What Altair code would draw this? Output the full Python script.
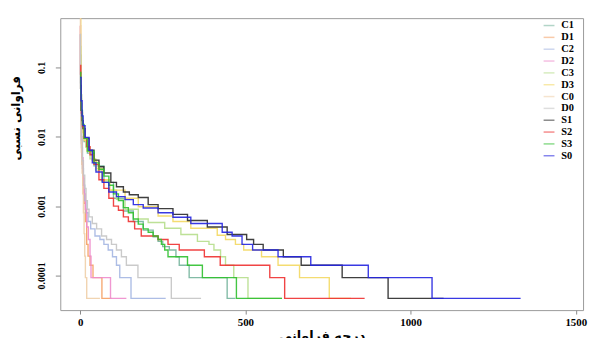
import altair as alt
import pandas as pd

series = ["C1", "D1", "C2", "D2", "C3", "D3", "C0", "D0", "S1", "S2", "S3", "S0"]
colors = ["#74b49c", "#f5a064", "#a4b6e2", "#ee8ccc", "#b6de8c", "#f3d862",
          "#efcfa8", "#c4c4c4", "#2a2a2a", "#ee3030", "#2fc02f", "#2424e0"]

c1_deg = [0, 2, 4, 7, 12, 22, 42, 72, 101, 131, 161, 191, 221, 236, 250, 270, 290, 300, 330, 445, 470]
c1_val = [0.15, 0.035, 0.02, 0.013, 0.0085, 0.0058, 0.0038, 0.0022, 0.0013, 0.00085, 0.0006, 0.00045,
          0.00036, 0.00031, 0.00026, 0.000233, 0.000186, 0.00014, 0.000093, 0.0000466, 0.0000466]

d1_deg = [0, 1, 2, 4, 6, 9, 12, 16, 20, 24, 30, 39, 66, 95]
d1_val = [0.4, 0.08, 0.02, 0.008, 0.004, 0.002, 0.0011, 0.0006, 0.00028, 0.00019, 0.00014, 0.000093,
          0.0000466, 0.0000466]

c2_deg = [0, 1, 2, 4, 7, 10, 14, 18, 24, 32, 45, 60, 72, 85, 98, 110, 120, 154, 259]
c2_val = [0.3, 0.05, 0.015, 0.007, 0.0035, 0.002, 0.0012, 0.0008, 0.0006, 0.00047, 0.00037, 0.00033,
          0.00028, 0.000233, 0.000186, 0.00014, 0.000093, 0.0000466, 0.0000466]

d2_deg = [0, 1, 2, 4, 6, 9, 12, 16, 20, 25, 30, 33, 92, 140]
d2_val = [0.4, 0.08, 0.025, 0.01, 0.005, 0.0025, 0.0015, 0.0009, 0.0005, 0.00033, 0.00019, 0.000093,
          0.0000466, 0.0000466]

c3_deg = [0, 2, 5, 10, 17, 30, 47, 65, 87, 110, 136, 176, 206, 256, 305, 355, 390, 405, 425, 440, 465, 508, 611]
c3_val = [0.2, 0.03, 0.015, 0.0095, 0.0071, 0.0048, 0.0033, 0.0023, 0.0017, 0.00125, 0.0009, 0.00065,
          0.00058, 0.00048, 0.00039, 0.00031, 0.00028, 0.000233, 0.000186, 0.00014, 0.000093,
          0.0000466, 0.0000466]

d3_deg = [0, 2, 4, 8, 12, 21, 36, 50, 67, 90, 136, 176, 236, 281, 335, 415, 440, 470, 495, 549, 599, 664, 754, 820]
d3_val = [0.6, 0.03, 0.018, 0.0115, 0.0088, 0.0062, 0.0046, 0.0035, 0.0024, 0.0017, 0.0013, 0.00098,
          0.00072, 0.0006, 0.00048, 0.00038, 0.00033, 0.00028, 0.000233, 0.000186, 0.00014, 0.000093,
          0.0000466, 0.0000466]

c0_deg = [0, 1, 2, 4, 6, 8, 10, 12, 14, 16, 20, 60]
c0_val = [0.6, 0.05, 0.015, 0.006, 0.003, 0.0015, 0.0008, 0.0004, 0.00019, 0.000093, 0.0000466, 0.0000466]

d0_deg = [0, 1, 2, 4, 7, 10, 14, 18, 22, 27, 37, 50, 65, 80, 95, 110, 125, 140, 175, 276, 366]
d0_val = [0.3, 0.06, 0.02, 0.009, 0.0045, 0.0028, 0.0018, 0.0012, 0.0009, 0.0007, 0.00056, 0.00047,
          0.00037, 0.00033, 0.00028, 0.000233, 0.000186, 0.00014, 0.000093, 0.0000466, 0.0000466]

s1_deg = [0, 3, 6, 9, 15, 27, 42, 57, 72, 93, 110, 131, 149, 176, 206, 236, 281, 325, 385, 445, 504,
          525, 554, 615, 669, 793, 932, 1100]
s1_val = [0.055, 0.024, 0.0171, 0.0131, 0.0095, 0.0064, 0.0046, 0.0037, 0.003, 0.0022, 0.0019, 0.0016,
          0.00146, 0.00133, 0.00105, 0.00092, 0.00076, 0.00062, 0.0005, 0.00039, 0.00033, 0.00028,
          0.000233, 0.000186, 0.00014, 0.000093, 0.0000466, 0.0000466]

s2_deg = [0, 2, 4, 7, 12, 20, 30, 42, 57, 72, 87, 101, 116, 131, 146, 165, 185, 236, 266, 300, 376,
          424, 574, 619, 861]
s2_val = [0.107, 0.04, 0.022, 0.014, 0.0095, 0.0072, 0.0055, 0.004, 0.0024, 0.0018, 0.0013, 0.001,
          0.00087, 0.0007, 0.0006, 0.00047, 0.00037, 0.00033, 0.00028, 0.000233, 0.000186, 0.00014,
          0.000093, 0.0000466, 0.0000466]

s3_deg = [0, 2, 4, 7, 12, 22, 42, 57, 72, 87, 101, 116, 131, 146, 161, 176, 191, 206, 221, 236, 246,
          256, 266, 325, 370, 473, 611]
s3_val = [0.085, 0.04, 0.024, 0.015, 0.0095, 0.0062, 0.0042, 0.0034, 0.0027, 0.002, 0.0015, 0.0012,
          0.00095, 0.0008, 0.00065, 0.00055, 0.00047, 0.00042, 0.00037, 0.00033, 0.00028, 0.000233,
          0.000186, 0.00014, 0.000093, 0.0000466, 0.0000466]

s0_deg = [0, 3, 6, 9, 15, 27, 37, 48, 67, 87, 110, 136, 161, 191, 236, 281, 335, 430, 460, 490, 522,
          599, 698, 872, 1065, 1333]
s0_val = [0.072, 0.033, 0.02, 0.0145, 0.0098, 0.0064, 0.0042, 0.0031, 0.0022, 0.0016, 0.00137, 0.00124,
          0.00105, 0.00094, 0.0008, 0.00069, 0.00056, 0.00042, 0.00037, 0.00028, 0.000233, 0.000186,
          0.00014, 0.000093, 0.0000466, 0.0000466]

x_ticks = [0, 500, 1000, 1500]
y_ticks = [0.0001, 0.001, 0.01, 0.1]

all_series = {
    "C1": (c1_deg, c1_val), "D1": (d1_deg, d1_val), "C2": (c2_deg, c2_val), "D2": (d2_deg, d2_val),
    "C3": (c3_deg, c3_val), "D3": (d3_deg, d3_val), "C0": (c0_deg, c0_val), "D0": (d0_deg, d0_val),
    "S1": (s1_deg, s1_val), "S2": (s2_deg, s2_val), "S3": (s3_deg, s3_val), "S0": (s0_deg, s0_val),
}

rows = []
for name in series:
    degs, vals = all_series[name]
    assert len(degs) == len(vals), name
    for i, (d, v) in enumerate(zip(degs, vals)):
        rows.append({"series": name, "degree": d, "freq": v, "idx": i})
df = pd.DataFrame(rows)

serif = "Liberation Serif"
arab = "DejaVu Sans"

color_enc = alt.Color(
    "series:N",
    scale=alt.Scale(domain=series, range=colors),
    legend=alt.Legend(
        orient="none", legendX=489, legendY=1, title=None,
        symbolType="stroke", symbolSize=121, symbolStrokeWidth=1.5, symbolOpacity=0.55,
        labelFont=serif, labelFontWeight="bold", labelFontSize=10.5, labelColor="black",
        labelOffset=6, rowPadding=0, padding=0,
    ),
)

x_enc = alt.X(
    "degree:Q",
    scale=alt.Scale(domain=[-60, 1522], nice=False, zero=False),
    axis=alt.Axis(
        values=x_ticks, format="d", grid=False, domain=False, tickColor="#888", tickSize=4,
        labelFont=serif, labelFontWeight="bold", labelFontSize=11, labelColor="black",
        labelPadding=3, title="درجه فراوانی", titleFont=arab, titleFontWeight="bold",
        titleFontSize=13, titleColor="black", titlePadding=2,
    ),
)
y_enc = alt.Y(
    "freq:Q",
    scale=alt.Scale(type="log", domain=[0.0000316, 0.514], nice=False),
    axis=alt.Axis(
        values=y_ticks, format="~g", grid=False, domain=False, tickColor="#888", tickSize=5,
        labelFont=serif, labelFontWeight="bold", labelFontSize=10, labelColor="black",
        labelAngle=270, labelAlign="center", labelBaseline="bottom", labelPadding=9,
        title="فراوانی نسبی", titleFont=arab, titleFontWeight="bold", titleFontSize=12,
        titleColor="black", titleAngle=270, titleX=-45, titleY=101, titleAlign="center",
        titleBaseline="middle",
    ),
)

layers = []
for name in series:
    layers.append(
        alt.Chart(df)
        .transform_filter(alt.datum.series == name)
        .mark_line(interpolate="step-after", clip=True, strokeWidth=1.4, opacity=0.9)
        .encode(x=x_enc, y=y_enc, color=color_enc, order=alt.Order("idx:Q"))
    )

chart = (
    alt.layer(*layers)
    .properties(
        width=530, height=296,
        autosize=alt.AutoSizeParams(type="none"),
        padding={"left": 53, "top": 8, "right": 5, "bottom": 26},
        background="white",
    )
    .configure_view(stroke="#9a9a9a", strokeWidth=1)
)

chart.save("out.html", embed_options={"renderer": "svg", "actions": False})
